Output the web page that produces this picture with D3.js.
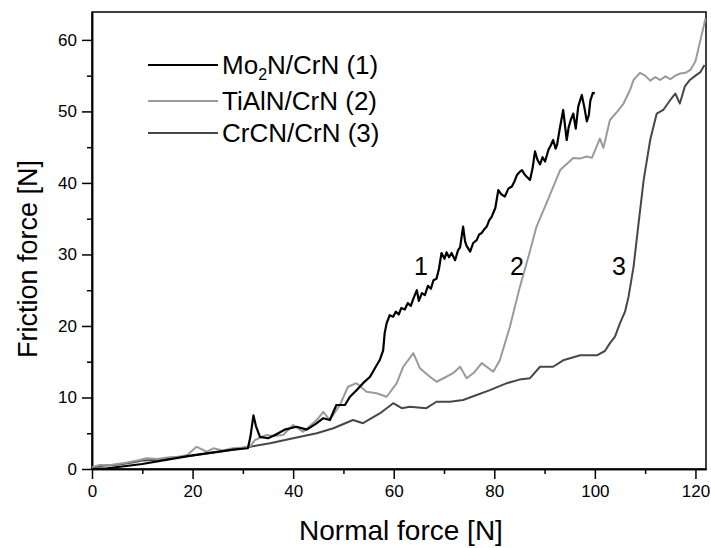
<!DOCTYPE html>
<html lang="en">
<head>
  <meta charset="UTF-8">
  <title>Friction force vs normal force</title>
  <script src="https://cdn.jsdelivr.net/npm/d3@7"></script>
  <style>
    body { margin: 0; background: #fff; }
    svg { font-family: Arial, "Liberation Sans", sans-serif; }
    .axis path, .axis line { stroke: #000; stroke-width: 1.5; }
    .axis text { font-size: 17px; fill: #000; }
  </style>
</head>
<body>
  <svg width="711" height="548"></svg>
  <script>
    // values
    var seriesNames = ['Mo2N/CrN (1)', 'TiAlN/CrN (2)', 'CrCN/CrN (3)'];
    var seriesColors = ['#000000', '#9a9a9a', '#474747'];

    var mo2nX = [0,3,6,10,15,20,25,28,31,31.5,32.1,32.6,33.4,35,36.5,38.3,40.7,42.7,44.5,46,47.3,48.6,50.3,51.3,52.6,53.9,55.3,56.6,57.2,57.9,58.2,58.6,59.2,59.9,60.4,61,61.5,62.2,62.8,63.4,64,64.6,65,65.6,66.2,66.8,67.4,67.9,68.5,69,69.5,70.1,70.5,71,71.5,72.2,72.8,73.2,73.8,74.2,74.5,75.2,75.8,76.5,77,77.5,78.1,78.5,79,79.5,80.2,80.8,81.4,82.1,82.8,83.5,84,84.5,85,85.5,86,86.4,87.1,87.6,88.1,88.6,89.1,89.6,90.1,90.8,91.2,91.7,92.2,92.5,93,93.7,94.4,94.8,95.2,95.7,96.2,96.7,97.4,97.9,98.4,98.8,99.1,99.6,100];
    var mo2nY = [0,0.1,0.35,0.7,1.3,1.9,2.4,2.7,2.9,4.5,7.5,6,4.5,4.3,4.8,5.5,5.9,5.5,6.3,7.1,6.85,8.95,8.95,10.1,11,12,12.9,14.5,15.2,16.6,19,20.4,21.5,21.3,22,21.6,22.5,22.3,23.2,22.8,24,25,23.5,24.6,24.3,25.6,25.2,26.4,26.6,28,30.2,29.4,30.3,29.6,30.2,29.2,30.6,31,33.9,31.8,31.2,30.4,31.6,32,32.8,33,33.6,33.9,34.8,35.3,36.5,39,38.4,38.1,39.2,39.5,40.2,41.1,41.5,41.8,41.2,40.9,40.4,42,44.4,43.2,42.6,43.6,43,44.7,45.2,46,44.8,45.4,47.5,50.2,46,47.8,48.8,49.7,47.6,50.7,52.3,50.6,48.6,49.5,51.5,52.6,52.5];

    var tialnX = [0,1.5,4,7,9.5,10.8,13,15,17.5,19,20.8,22,22.8,24.1,26,28,30,31.5,32.4,34.7,36,38,40,42,44.7,46,47.3,49.3,50.9,52.6,54.6,56.6,58.6,60.6,61.9,63.9,65.2,67.2,68.5,70.5,71.8,73.2,74.5,76,77.5,79.8,81.1,83.1,85.1,86.8,88.4,90.4,93.1,95.7,97,98.4,99.4,101,101.7,103,104.5,105.7,107,107.7,109,110,111,112,113,114,115,116,117,118,119,120,121,122];
    var tialnY = [0.2,0.55,0.6,0.9,1.25,1.5,1.4,1.6,1.7,2.0,3.1,2.7,2.4,2.9,2.6,2.9,3.0,3.2,4.05,4.75,4.6,4.75,6.15,5.2,6.85,8.0,6.85,8.95,11.5,12,10.8,10.6,10.1,12,14.3,16.2,14.1,12.9,12.2,12.9,13.4,14.3,12.7,13.5,14.8,13.6,15.2,19.9,25.5,29.7,33.9,37.2,41.8,43.5,43.4,43.7,43.5,46.2,44.9,48.8,50,51.1,53,54.4,55.4,55,54.3,54.8,54.4,54.9,54.5,55,55.3,55.4,55.8,57,60,63];

    var crcnX = [0,2,5,8,10,13,16,20,25,28,31.4,35.4,40.7,44.7,48,51.9,53.9,57.3,59.9,61.6,63.2,66.5,68.5,71.2,73.8,76.5,79,82.5,85,87.1,89.1,91.7,93.7,97.1,100.4,102,103,104,105,106,106.7,107.7,108.7,109.7,111,112.3,113.6,115,116,116.9,117.9,118.9,120,121,121.8];
    var crcnY = [0.2,0.45,0.6,0.9,1.2,1.3,1.6,1.9,2.4,2.7,3.1,3.6,4.4,5,5.7,6.85,6.4,7.8,9.2,8.5,8.7,8.5,9.4,9.4,9.65,10.35,11,12,12.5,12.7,14.3,14.3,15.2,15.9,15.9,16.5,17.6,18.5,20.4,22,24.1,28.3,34.4,40.4,46,49.7,50.2,51.6,52.5,51.1,53.5,54.4,55,55.5,56.5];

    var xTicks = [0, 20, 40, 60, 80, 100, 120];
    var xMinorTicks = [10, 30, 50, 70, 90, 110];
    var yTicks = [0, 10, 20, 30, 40, 50, 60];
    var yMinorTicks = [5, 15, 25, 35, 45, 55];

    // curve number labels, in data units
    var curveLabels = ['1', '2', '3'];
    var curveLabelX = [65.4, 84.5, 104.8];
    var curveLabelY = [27.1, 27.1, 27.1];

    var svg = d3.select('svg');
    var margin = {top: 12, right: 5, bottom: 79, left: 92};
    var width = svg.attr('width') - margin.left - margin.right;
    var height = svg.attr('height') - margin.top - margin.bottom;

    var chart = svg.append('g')
      .attr('transform', 'translate(' + margin.left + ',' + margin.top + ')');

    var xScale = d3.scaleLinear().domain([0, 122.1]).range([0, width]);
    var yScale = d3.scaleLinear().domain([0, 63.9]).range([height, 0]);

    // frame
    chart.append('rect')
      .attr('width', width)
      .attr('height', height)
      .attr('fill', 'none')
      .attr('stroke', '#000')
      .attr('stroke-width', 1.5);

    // axes, major + minor
    chart.append('g')
      .attr('class', 'axis')
      .attr('transform', 'translate(0,' + height + ')')
      .call(d3.axisBottom(xScale).tickValues(xTicks).tickSize(10).tickPadding(6).tickSizeOuter(0));
    chart.append('g')
      .attr('class', 'axis')
      .attr('transform', 'translate(0,' + height + ')')
      .call(d3.axisBottom(xScale).tickValues(xMinorTicks).tickSize(5).tickFormat('').tickSizeOuter(0));
    chart.append('g')
      .attr('class', 'axis')
      .call(d3.axisLeft(yScale).tickValues(yTicks).tickSize(10).tickPadding(5).tickSizeOuter(0));
    chart.append('g')
      .attr('class', 'axis')
      .call(d3.axisLeft(yScale).tickValues(yMinorTicks).tickSize(5).tickFormat('').tickSizeOuter(0));

    // series
    var seriesData = [
      d3.zip(mo2nX, mo2nY),
      d3.zip(tialnX, tialnY),
      d3.zip(crcnX, crcnY)
    ];
    var line = d3.line()
      .x(function(d) { return xScale(d[0]); })
      .y(function(d) { return yScale(d[1]); });

    // draw dark gray first, then light gray, then black on top
    [2, 1, 0].forEach(function(i) {
      chart.append('path')
        .datum(seriesData[i])
        .attr('fill', 'none')
        .attr('stroke', seriesColors[i])
        .attr('stroke-width', i === 0 ? 2.2 : 2)
        .attr('stroke-linejoin', 'round')
        .attr('d', line);
    });

    // curve number labels
    chart.selectAll('.curve-label')
      .data(curveLabels)
      .enter()
      .append('text')
      .attr('class', 'curve-label')
      .attr('x', function(d, i) { return xScale(curveLabelX[i]); })
      .attr('y', function(d, i) { return yScale(curveLabelY[i]); })
      .attr('text-anchor', 'middle')
      .attr('font-size', 25)
      .text(function(d) { return d; });

    // legend
    var legend = svg.append('g').attr('transform', 'translate(148,65)');
    var legendRows = [0, 36, 68];
    seriesNames.forEach(function(name, i) {
      var row = legend.append('g').attr('transform', 'translate(0,' + legendRows[i] + ')');
      row.append('line')
        .attr('x1', 0).attr('x2', 70)
        .attr('stroke', seriesColors[i])
        .attr('stroke-width', 2);
      var t = row.append('text')
        .attr('x', 74)
        .attr('y', 9)
        .attr('font-size', 26);
      if (i === 0) {
        t.append('tspan').text('Mo');
        t.append('tspan').attr('font-size', 16).attr('dy', 6).text('2');
        t.append('tspan').attr('dy', -6).text('N/CrN (1)');
      } else {
        t.text(name);
      }
    });

    // axis titles
    svg.append('text')
      .attr('x', 401)
      .attr('y', 540)
      .attr('text-anchor', 'middle')
      .attr('font-size', 28)
      .text('Normal force [N]');
    svg.append('text')
      .attr('transform', 'translate(37,259) rotate(-90)')
      .attr('text-anchor', 'middle')
      .attr('font-size', 27)
      .text('Friction force [N]');
  </script>
</body>
</html>
